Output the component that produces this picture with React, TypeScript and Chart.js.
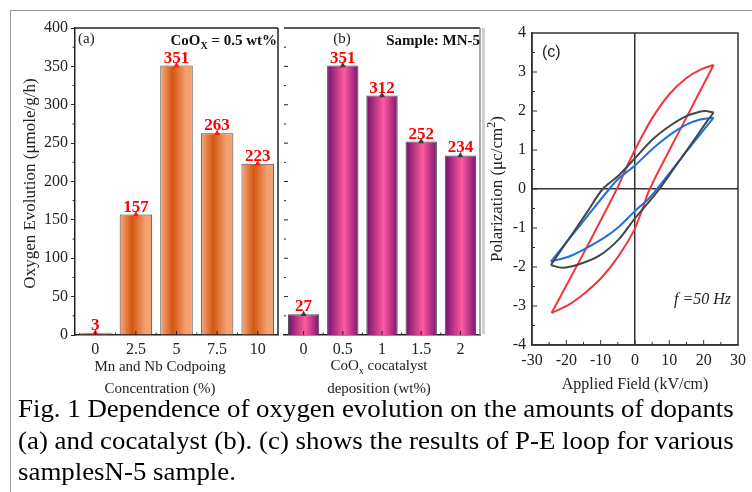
import React, { useEffect, useRef } from 'react';
import { Chart, registerables } from 'chart.js';

Chart.register(...registerables);

const SERIF = '"Liberation Serif", "Times New Roman", serif';
const SANS = '"Liberation Sans", Arial, sans-serif';

// Panel (a): Mn and Nb codoping concentration (%)
const dopantLabels = ['0', '2.5', '5', '7.5', '10'];
const dopantValues = [3, 157, 351, 263, 223];

// Panel (b): CoOx cocatalyst deposition (wt%)
const cocatLabels = ['0', '0.5', '1', '1.5', '2'];
const cocatValues = [27, 351, 312, 252, 234];

// Panel (c): P-E loops, [applied field kV/cm, polarization µC/cm²]
const redLower = [[-24.3, -3.18], [-19, -2.95], [-14.5, -2.66], [-9.7, -2.27], [-4.8, -1.72], [-0.5, -1.1], [1.8, -0.6], [4.3, 0], [13.6, 1.6], [22.9, 3.18]];
const redUpper = [[22.9, 3.18], [18.8, 3.05], [14.9, 2.84], [10, 2.43], [5.1, 1.83], [1.25, 1.22], [-1.66, 0.71], [-5.3, 0], [-15, -1.65], [-24.3, -3.18]];
const grayLower = [[-24.5, -1.95], [-21.1, -2.02], [-16.3, -1.93], [-10.4, -1.71], [-4.6, -1.28], [-0.2, -0.77], [4.2, -0.32], [7.1, 0], [12, 0.61], [17, 1.23], [21, 1.74], [22.9, 1.96]];
const grayUpper = [[22.9, 1.96], [20.5, 2.0], [18.8, 1.98], [14.9, 1.87], [10, 1.61], [5.1, 1.27], [0, 0.79], [-4.6, 0.36], [-9.4, 0], [-14, -0.6], [-19.2, -1.27], [-24.5, -1.95]];
const blueLower = [[-24.5, -1.86], [-19.2, -1.73], [-14.3, -1.52], [-8.5, -1.22], [-4.6, -0.96], [-0.2, -0.58], [4.2, -0.23], [6.4, 0], [14.6, 0.92], [22.9, 1.83]];
const blueUpper = [[22.9, 1.83], [19, 1.78], [15, 1.65], [11, 1.44], [7.1, 1.18], [3.5, 0.9], [0, 0.6], [-4.6, 0.28], [-7.5, 0], [-16, -0.93], [-24.5, -1.86]];

type Seg = { t: string; sub?: boolean; sup?: boolean };

function drawRich(
  ctx: CanvasRenderingContext2D,
  segs: Seg[],
  x: number,
  y: number,
  size: number,
  weight: string,
  family: string,
  align: 'left' | 'center' | 'right',
  color: string,
  style = 'normal'
) {
  const fontFor = (s: Seg) => `${style} ${weight} ${s.sub || s.sup ? Math.round(size * 0.68) : size}px ${family}`;
  const widths = segs.map((s) => {
    ctx.font = fontFor(s);
    return ctx.measureText(s.t).width;
  });
  const total = widths.reduce((a, b) => a + b, 0);
  let cx = align === 'center' ? x - total / 2 : align === 'right' ? x - total : x;
  ctx.fillStyle = color;
  ctx.textAlign = 'left';
  ctx.textBaseline = 'alphabetic';
  segs.forEach((s, i) => {
    ctx.font = fontFor(s);
    const dy = s.sub ? size * 0.28 : s.sup ? -size * 0.4 : 0;
    ctx.fillText(s.t, cx, y + dy);
    cx += widths[i];
  });
}

function line(ctx: CanvasRenderingContext2D, x1: number, y1: number, x2: number, y2: number) {
  ctx.beginPath();
  ctx.moveTo(x1, y1);
  ctx.lineTo(x2, y2);
  ctx.stroke();
}

const orangeStops: [number, string][] = [[0, '#F6AD82'], [0.38, '#D4550F'], [0.8, '#F4A273'], [1, '#F2A06F']];
const purpleStops: [number, string][] = [[0, '#74106C'], [0.55, '#FF5AA0'], [1, '#7A1470']];

function barConfig(kind: 'a' | 'b'): any {
  const isA = kind === 'a';
  const labels = isA ? dopantLabels : cocatLabels;
  const values = isA ? dopantValues : cocatValues;
  const stops = isA ? orangeStops : purpleStops;

  const decor = {
    id: 'decor' + kind,
    beforeDatasetsDraw(chart: any) {
      const { ctx } = chart;
      const meta = chart.getDatasetMeta(0);
      meta.data.forEach((el: any) => {
        const g = ctx.createLinearGradient(el.x - el.width / 2, 0, el.x + el.width / 2, 0);
        stops.forEach(([o, c]) => g.addColorStop(o, c));
        el.options = Object.assign({}, el.options, { backgroundColor: g });
      });
    },
    afterDatasetsDraw(chart: any) {
      const { ctx, chartArea: ca, scales } = chart;
      const x = scales.x;
      const y = scales.y;
      ctx.save();
      const meta = chart.getDatasetMeta(0);
      ctx.fillStyle = '#FF0000';
      ctx.font = `bold 17px ${SERIF}`;
      ctx.textAlign = 'center';
      ctx.textBaseline = 'alphabetic';
      meta.data.forEach((el: any, i: number) => {
        ctx.fillText(String(values[i]), el.x, el.y - 3);
      });
      ctx.strokeStyle = '#222';
      ctx.lineWidth = 1;
      labels.forEach((_, i) => line(ctx, x.getPixelForValue(i), ca.bottom, x.getPixelForValue(i), ca.bottom - 4));
      for (let i = 1; i < labels.length; i++) {
        const bx = (x.getPixelForValue(i - 1) + x.getPixelForValue(i)) / 2;
        line(ctx, bx, ca.bottom, bx, ca.bottom - 2.5);
      }
      ctx.lineWidth = 1.5;
      ctx.strokeStyle = '#222';
      line(ctx, ca.left, ca.top, ca.right, ca.top);
      if (isA) {
        line(ctx, ca.right, ca.top, ca.right, ca.bottom);
        for (let v = 25; v < 400; v += 50) {
          ctx.lineWidth = 1;
          line(ctx, ca.left - 2.5, y.getPixelForValue(v), ca.left, y.getPixelForValue(v));
        }
      } else {
        ctx.lineWidth = 1;
        for (let v = 25; v < 400; v += 25) {
          const len = v % 50 === 0 ? 4 : 2;
          line(ctx, ca.left, y.getPixelForValue(v), ca.left + len, y.getPixelForValue(v));
        }
        ctx.strokeStyle = '#8a8a8a';
        ctx.lineWidth = 1.5;
        line(ctx, ca.right, ca.top, ca.right, ca.bottom);
      }
      ctx.restore();
    },
    afterDraw(chart: any) {
      const { ctx, chartArea: ca } = chart;
      ctx.save();
      if (isA) {
        drawRich(ctx, [{ t: '(a)' }], 78, 43, 15, 'normal', SERIF, 'left', '#222');
        drawRich(ctx, [{ t: 'CoO' }, { t: 'X', sub: true }, { t: ' = 0.5 wt%' }], 277, 45, 15, 'bold', SERIF, 'right', '#111');
        ctx.translate(30, (ca.top + ca.bottom) / 2 + 2);
        ctx.rotate(-Math.PI / 2);
        drawRich(ctx, [{ t: 'Oxygen Evolution (μmole/g/h)' }], 0, 5, 17, 'normal', SERIF, 'center', '#222');
        ctx.setTransform(1, 0, 0, 1, 0, 0);
        const cx = 160;
        drawRich(ctx, [{ t: 'Mn and Nb Codpoing' }], cx, 371, 15, 'normal', SERIF, 'center', '#222');
        drawRich(ctx, [{ t: 'Concentration (%)' }], cx, 393, 15, 'normal', SERIF, 'center', '#222');
      } else {
        const ox = 280;
        drawRich(ctx, [{ t: '(b)' }], 342 - ox, 43, 15, 'normal', SERIF, 'center', '#222');
        drawRich(ctx, [{ t: 'Sample: MN-5' }], 480 - ox, 45, 15, 'bold', SERIF, 'right', '#111');
        drawRich(ctx, [{ t: 'CoO' }, { t: 'x', sub: true }, { t: ' cocatalyst' }], 379 - ox, 370, 15, 'normal', SERIF, 'center', '#222');
        drawRich(ctx, [{ t: 'deposition (wt%)' }], 379 - ox, 393, 15, 'normal', SERIF, 'center', '#222');
      }
      ctx.restore();
    },
  };

  return {
    type: 'bar',
    data: {
      labels,
      datasets: [
        {
          type: 'bar',
          data: values,
          backgroundColor: isA ? '#E07A40' : '#C03088',
          borderColor: '#4a4a4a',
          borderWidth: 1,
          barPercentage: 0.8,
          categoryPercentage: 1,
          order: 2,
        },
        {
          type: 'line',
          data: values,
          showLine: false,
          pointStyle: 'triangle',
          pointRadius: 3.5,
          pointBackgroundColor: isA ? '#FF1A1A' : '#3a3a3a',
          pointBorderColor: isA ? '#FF1A1A' : '#3a3a3a',
          pointBorderWidth: 0,
          order: 1,
        },
      ],
    },
    options: {
      responsive: false,
      animation: false,
      devicePixelRatio: 1,
      layout: { padding: { top: 28, right: 2, left: 0, bottom: 0 } },
      plugins: { legend: { display: false }, tooltip: { enabled: false } },
      scales: {
        x: {
          offset: true,
          grid: { display: false, drawTicks: false },
          border: { color: '#222', width: 1.5 },
          ticks: { font: { family: SERIF, size: 16 }, color: '#222', padding: 5, maxRotation: 0 },
          afterFit: (s: any) => {
            s.height = 70;
          },
        },
        y: {
          display: isA,
          min: 0,
          max: 400,
          ticks: { stepSize: 50, font: { family: SERIF, size: 16 }, color: '#222', padding: 3 },
          grid: { drawOnChartArea: false, tickLength: 4, color: '#222' },
          border: { color: '#222', width: 1.5 },
          afterFit: (s: any) => {
            s.width = isA ? 75 : 0;
          },
        },
      },
    },
    plugins: [decor],
  };
}

function loopConfig(): any {
  const mk = (pts: number[][], color: string) => ({
    data: pts.map(([x, y]) => ({ x, y })),
    showLine: true,
    borderColor: color,
    borderWidth: 2,
    pointRadius: 0,
    tension: 0.3,
    fill: false,
  });
  const GRAY = '#454545';
  const BLUE = '#1F6FE0';
  const RED = '#F2363F';
  const zeroGrid = {
    color: (c: any) => (c.tick && c.tick.value === 0 ? '#333' : 'rgba(0,0,0,0)'),
    lineWidth: 1.5,
    drawTicks: false,
  };
  const decor = {
    id: 'decorc',
    afterDraw(chart: any) {
      const { ctx, chartArea: ca, scales } = chart;
      const x = scales.x;
      const y = scales.y;
      ctx.save();
      ctx.strokeStyle = '#333';
      ctx.lineWidth = 1.5;
      ctx.strokeRect(ca.left, ca.top, ca.right - ca.left, ca.bottom - ca.top);
      ctx.lineWidth = 1;
      for (let v = -25; v <= 25; v += 5) {
        const len = v % 10 === 0 ? 5 : 3;
        line(ctx, x.getPixelForValue(v), ca.bottom, x.getPixelForValue(v), ca.bottom - len);
      }
      for (let v = -3.5; v <= 3.5; v += 0.5) {
        const len = Number.isInteger(v) ? 5 : 3;
        line(ctx, ca.left, y.getPixelForValue(v), ca.left + len, y.getPixelForValue(v));
      }
      const ox = 482;
      drawRich(ctx, [{ t: '(c)' }], 542 - ox, 57, 16, 'normal', SANS, 'left', '#222');
      drawRich(ctx, [{ t: 'f' }, { t: ' =50 Hz' }], 731 - ox, 304, 16, 'normal', SERIF, 'right', '#222', 'italic');
      drawRich(ctx, [{ t: 'Applied Field (kV/cm)' }], 635 - ox, 389, 16, 'normal', SERIF, 'center', '#222');
      ctx.translate(497 - ox, (ca.top + ca.bottom) / 2);
      ctx.rotate(-Math.PI / 2);
      drawRich(ctx, [{ t: 'Polarization (μc/cm' }, { t: '2', sup: true }, { t: ')' }], 0, 5, 17, 'normal', SERIF, 'center', '#222');
      ctx.restore();
    },
  };
  return {
    type: 'scatter',
    data: {
      datasets: [
        mk(grayLower, GRAY),
        mk(grayUpper, GRAY),
        mk(blueLower, BLUE),
        mk(blueUpper, BLUE),
        mk(redLower, RED),
        mk(redUpper, RED),
      ],
    },
    options: {
      responsive: false,
      animation: false,
      devicePixelRatio: 1,
      layout: { padding: { top: 33, right: 13, left: 0, bottom: 0 } },
      plugins: { legend: { display: false }, tooltip: { enabled: false } },
      scales: {
        x: {
          type: 'linear',
          min: -30,
          max: 30,
          ticks: { stepSize: 10, font: { family: SERIF, size: 16 }, color: '#222', padding: 6 },
          grid: zeroGrid,
          border: { color: '#333', width: 1.5 },
          afterFit: (s: any) => {
            s.height = 60;
          },
        },
        y: {
          min: -4,
          max: 4,
          ticks: { stepSize: 1, font: { family: SERIF, size: 16 }, color: '#222', padding: 6 },
          grid: zeroGrid,
          border: { color: '#333', width: 1.5 },
          afterFit: (s: any) => {
            s.width = 50;
          },
        },
      },
    },
    plugins: [decor],
  };
}

export default function App() {
  const aRef = useRef<HTMLCanvasElement>(null);
  const bRef = useRef<HTMLCanvasElement>(null);
  const cRef = useRef<HTMLCanvasElement>(null);

  useEffect(() => {
    const charts = [
      new Chart(aRef.current as HTMLCanvasElement, barConfig('a')),
      new Chart(bRef.current as HTMLCanvasElement, barConfig('b')),
      new Chart(cRef.current as HTMLCanvasElement, loopConfig()),
    ];
    return () => charts.forEach((c) => c.destroy());
  }, []);

  return (
    <div style={{ position: 'fixed', left: 0, top: 0, width: 752, height: 492, background: '#fff', overflow: 'hidden' }}>
      <div
        style={{
          position: 'absolute',
          left: 10,
          top: 10,
          width: 742,
          height: 482,
          borderTop: '1px solid #9a9a9a',
          borderLeft: '1px solid #9a9a9a',
        }}
      />
      <div style={{ position: 'absolute', left: 482, top: 28, width: 3, height: 306, background: '#cfcfcf' }} />
      <canvas ref={aRef} width={282} height={405} style={{ position: 'absolute', left: 0, top: 0 }} />
      <canvas ref={bRef} width={204} height={405} style={{ position: 'absolute', left: 280, top: 0 }} />
      <canvas ref={cRef} width={270} height={405} style={{ position: 'absolute', left: 482, top: 0 }} />
      <div
        style={{
          position: 'absolute',
          left: 18,
          top: 393,
          fontFamily: SERIF,
          fontSize: 25,
          lineHeight: '31.5px',
          color: '#000',
          whiteSpace: 'nowrap',
          transform: 'scaleX(1.075)',
          transformOrigin: 'left top',
        }}
      >
        <div>Fig. 1 Dependence of oxygen evolution on the amounts of dopants</div>
        <div>(a) and cocatalyst (b). (c) shows the results of P-E loop for various</div>
        <div>samplesN-5 sample.</div>
      </div>
    </div>
  );
}
